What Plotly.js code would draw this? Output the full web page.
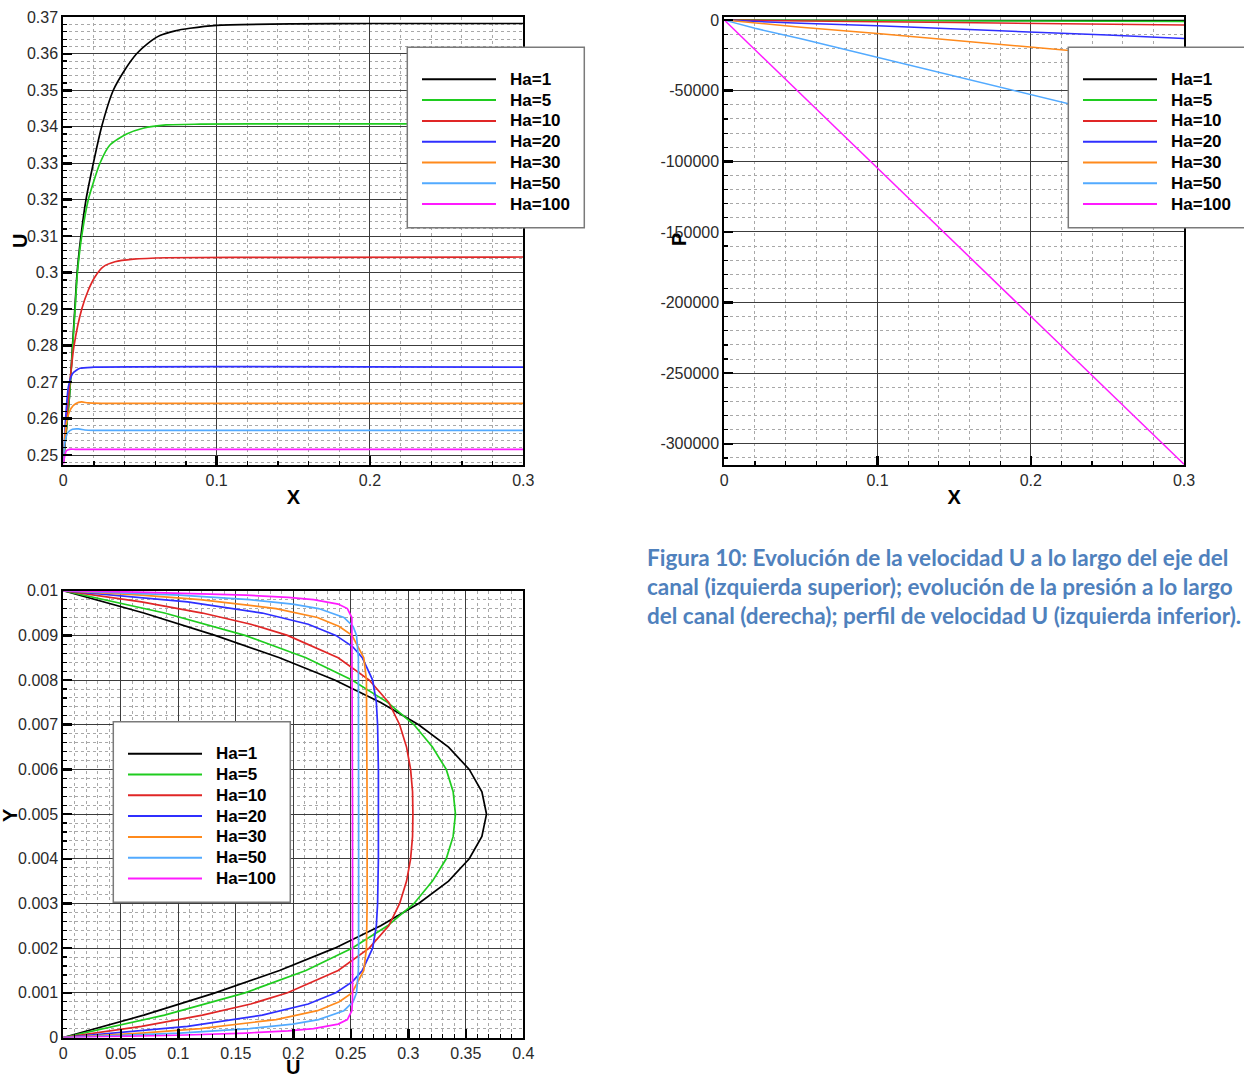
<!DOCTYPE html>
<html>
<head>
<meta charset="utf-8">
<script src="https://cdn.plot.ly/plotly-3.0.1.min.js"></script>
<style>
  html, body { margin: 0; padding: 0; background: #ffffff; }
  #chart { width: 1244px; height: 1074px; }
</style>
</head>
<body>
<div id="chart"></div>
<script>
// ---------- series ----------
const seriesNames = ['Ha=1', 'Ha=5', 'Ha=10', 'Ha=20', 'Ha=30', 'Ha=50', 'Ha=100'];

// ---------- centre-line velocity U along the channel (top left) ----------
const axisX_Ha1 = [0, 0.002, 0.004, 0.006, 0.0075, 0.009, 0.0115, 0.0148, 0.0196, 0.025, 0.0326, 0.04, 0.0478, 0.055, 0.063, 0.073, 0.0826, 0.1, 0.15, 0.2, 0.3];
const axisU_Ha1 = [0.248, 0.257, 0.266, 0.28, 0.29, 0.3, 0.31, 0.32, 0.33, 0.34, 0.35, 0.3555, 0.36, 0.3628, 0.365, 0.3663, 0.367, 0.3678, 0.3682, 0.3683, 0.3683];
const axisX_Ha5 = [0, 0.002, 0.004, 0.006, 0.0077, 0.0092, 0.012, 0.0163, 0.0239, 0.0304, 0.0413, 0.052, 0.067, 0.089, 0.15, 0.3];
const axisU_Ha5 = [0.248, 0.257, 0.266, 0.279, 0.29, 0.3, 0.31, 0.32, 0.33, 0.335, 0.338, 0.3396, 0.3405, 0.3407, 0.3408, 0.3408];
const axisX_Ha10 = [0, 0.0022, 0.0043, 0.007, 0.012, 0.0163, 0.0207, 0.026, 0.0337, 0.0457, 0.067, 0.15, 0.3];
const axisU_Ha10 = [0.248, 0.26, 0.27, 0.28, 0.29, 0.2952, 0.2989, 0.3016, 0.303, 0.3037, 0.3041, 0.3042, 0.3043];
const axisX_Ha20 = [0, 0.0015, 0.0033, 0.0061, 0.0109, 0.02, 0.3];
const axisU_Ha20 = [0.248, 0.26, 0.2687, 0.2724, 0.2738, 0.2741, 0.2741];
const axisX_Ha30 = [0, 0.001, 0.0025, 0.005, 0.008, 0.012, 0.016, 0.025, 0.3];
const axisU_Ha30 = [0.248, 0.255, 0.26, 0.2628, 0.2641, 0.2646, 0.2643, 0.2642, 0.2642];
const axisX_Ha50 = [0, 0.001, 0.003, 0.006, 0.01, 0.014, 0.02, 0.3];
const axisU_Ha50 = [0.248, 0.2535, 0.2562, 0.2571, 0.2572, 0.2569, 0.2568, 0.2568];
const axisX_Ha100 = [0, 0.0008, 0.002, 0.004, 0.008, 0.3];
const axisU_Ha100 = [0.2475, 0.2495, 0.2512, 0.2516, 0.2516, 0.2516];

// ---------- pressure P along the channel (right) ----------
const presX = [0, 0.02, 0.05, 0.1, 0.15, 0.2, 0.25, 0.3];
const presP_Ha1 = [0, -30, -70, -130, -190, -250, -300, -350];
const presP_Ha5 = [0, -120, -220, -380, -540, -700, -860, -1000];
const presP_Ha10 = [0, -300, -600, -1150, -1700, -2300, -2900, -3500];
const presP_Ha20 = [0, -1000, -2200, -4000, -6100, -8300, -10600, -13000];
const presP_Ha30 = [0, -2200, -5000, -9500, -14300, -19200, -24000, -28800];
const presP_Ha50 = [0, -5800, -13200, -26300, -39500, -52700, -65800, -79000];
const presP_Ha100 = [0, -21000, -52300, -104600, -157000, -209500, -262000, -314500];

// ---------- velocity profile U across the channel (bottom left) ----------
const profY_Ha1 = [0, 0.0005, 0.001, 0.0015, 0.002, 0.0025, 0.003, 0.0035, 0.004, 0.0045, 0.005, 0.0055, 0.006, 0.0065, 0.007, 0.0075, 0.008, 0.0085, 0.009, 0.0095, 0.01];
const profU_Ha1 = [0, 0.070, 0.132, 0.188, 0.236, 0.276, 0.309, 0.335, 0.353, 0.364, 0.368, 0.364, 0.353, 0.335, 0.309, 0.276, 0.236, 0.188, 0.132, 0.070, 0];
const profY_Ha5 = [0, 0.0005, 0.001, 0.0015, 0.002, 0.0025, 0.003, 0.0035, 0.004, 0.0045, 0.005, 0.0055, 0.006, 0.0065, 0.007, 0.0075, 0.008, 0.0085, 0.009, 0.0095, 0.01];
const profU_Ha5 = [0, 0.088, 0.158, 0.211, 0.251, 0.282, 0.305, 0.321, 0.333, 0.339, 0.341, 0.339, 0.333, 0.321, 0.305, 0.282, 0.251, 0.211, 0.158, 0.088, 0];
const profY_Ha10 = [0, 0.00025, 0.0005, 0.00075, 0.001, 0.0015, 0.002, 0.0025, 0.003, 0.0035, 0.004, 0.0045, 0.005, 0.0055, 0.006, 0.0065, 0.007, 0.0075, 0.008, 0.0085, 0.009, 0.00925, 0.0095, 0.00975, 0.01];
const profU_Ha10 = [0, 0.068, 0.121, 0.163, 0.195, 0.239, 0.266, 0.283, 0.2925, 0.2985, 0.302, 0.3037, 0.304, 0.3037, 0.302, 0.2985, 0.2925, 0.283, 0.266, 0.239, 0.195, 0.163, 0.121, 0.068, 0];
const profY_Ha20 = [0, 0.00025, 0.0005, 0.00075, 0.001, 0.00125, 0.0015, 0.002, 0.0025, 0.003, 0.004, 0.005, 0.006, 0.007, 0.0075, 0.008, 0.0085, 0.00875, 0.009, 0.00925, 0.0095, 0.00975, 0.01];
const profU_Ha20 = [0, 0.108, 0.173, 0.213, 0.237, 0.2515, 0.260, 0.269, 0.2722, 0.2733, 0.274, 0.274, 0.274, 0.2733, 0.2722, 0.269, 0.260, 0.2515, 0.237, 0.213, 0.173, 0.108, 0];
const profY_Ha30 = [0, 0.0001, 0.0002, 0.0004, 0.0006, 0.0008, 0.001, 0.0015, 0.002, 0.003, 0.005, 0.007, 0.008, 0.0085, 0.009, 0.0092, 0.0094, 0.0096, 0.0098, 0.0099, 0.01];
const profU_Ha30 = [0, 0.068, 0.119, 0.185, 0.221, 0.240, 0.251, 0.2613, 0.2636, 0.2642, 0.2642, 0.2642, 0.2636, 0.2613, 0.251, 0.240, 0.221, 0.185, 0.119, 0.068, 0];
const profY_Ha50 = [0, 0.00005, 0.0001, 0.0002, 0.0003, 0.0004, 0.0006, 0.0008, 0.001, 0.0015, 0.002, 0.005, 0.008, 0.0085, 0.009, 0.0092, 0.0094, 0.0096, 0.0097, 0.0098, 0.0099, 0.00995, 0.01];
const profU_Ha50 = [0, 0.057, 0.101, 0.162, 0.1995, 0.222, 0.244, 0.252, 0.255, 0.2566, 0.2568, 0.2568, 0.2568, 0.2566, 0.255, 0.252, 0.244, 0.222, 0.1995, 0.162, 0.101, 0.057, 0];
const profY_Ha100 = [0, 0.00003, 0.00005, 0.0001, 0.00015, 0.0002, 0.0003, 0.0004, 0.0006, 0.0008, 0.001, 0.005, 0.009, 0.0092, 0.0094, 0.0096, 0.0097, 0.0098, 0.00985, 0.0099, 0.00995, 0.00997, 0.01];
const profU_Ha100 = [0, 0.065, 0.099, 0.159, 0.1955, 0.2176, 0.239, 0.247, 0.2509, 0.2514, 0.2515, 0.2515, 0.2515, 0.2514, 0.2509, 0.247, 0.239, 0.2176, 0.1955, 0.159, 0.099, 0.065, 0];

// ---------- tick labels ----------
const xTickVals = [0, 0.1, 0.2, 0.3];
const xTickText = ['0', '0.1', '0.2', '0.3'];
const uTickVals = [0.25, 0.26, 0.27, 0.28, 0.29, 0.30, 0.31, 0.32, 0.33, 0.34, 0.35, 0.36, 0.37];
const uTickText = ['0.25', '0.26', '0.27', '0.28', '0.29', '0.3', '0.31', '0.32', '0.33', '0.34', '0.35', '0.36', '0.37'];
const pTickVals = [0, -50000, -100000, -150000, -200000, -250000, -300000];
const pTickText = ['0', '-50000', '-100000', '-150000', '-200000', '-250000', '-300000'];
const profXTickVals = [0, 0.05, 0.1, 0.15, 0.2, 0.25, 0.3, 0.35, 0.4];
const profXTickText = ['0', '0.05', '0.1', '0.15', '0.2', '0.25', '0.3', '0.35', '0.4'];
const profYTickVals = [0, 0.001, 0.002, 0.003, 0.004, 0.005, 0.006, 0.007, 0.008, 0.009, 0.01];
const profYTickText = ['0', '0.001', '0.002', '0.003', '0.004', '0.005', '0.006', '0.007', '0.008', '0.009', '0.01'];

// ---------- caption ----------
const captionLines = [
  'Figura 10: Evolución de la velocidad U a lo largo del eje del',
  'canal (izquierda superior); evolución de la presión a lo largo',
  'del canal (derecha); perfil de velocidad U (izquierda inferior).'
];

// ---------- styling ----------
const lineColors = ['#000000', '#1fcc1f', '#e02626', '#2f2fff', '#ff8a1c', '#52aaff', '#ff1aff'];
const W = 1244, H = 1074;
const px = v => v / W;          // pixel -> paper x
const py = v => 1 - v / H;      // pixel -> paper y
const tickFont = { family: 'Liberation Sans, Arial, sans-serif', size: 16, color: '#2a2a2a' };
const titleFont = { family: 'Liberation Sans, Arial, sans-serif', size: 20, color: '#000000' };

const axisX = [axisX_Ha1, axisX_Ha5, axisX_Ha10, axisX_Ha20, axisX_Ha30, axisX_Ha50, axisX_Ha100];
const axisU = [axisU_Ha1, axisU_Ha5, axisU_Ha10, axisU_Ha20, axisU_Ha30, axisU_Ha50, axisU_Ha100];
const presP = [presP_Ha1, presP_Ha5, presP_Ha10, presP_Ha20, presP_Ha30, presP_Ha50, presP_Ha100];
const profY = [profY_Ha1, profY_Ha5, profY_Ha10, profY_Ha20, profY_Ha30, profY_Ha50, profY_Ha100];
const profU = [profU_Ha1, profU_Ha5, profU_Ha10, profU_Ha20, profU_Ha30, profU_Ha50, profU_Ha100];

const traces = [];
seriesNames.forEach((name, i) => {
  traces.push({ type: 'scatter', mode: 'lines', name, x: axisX[i], y: axisU[i], xaxis: 'x', yaxis: 'y',
    line: { color: lineColors[i], width: 1.7, shape: 'spline', smoothing: 0.6 }, showlegend: false, hoverinfo: 'skip' });
  traces.push({ type: 'scatter', mode: 'lines', name, x: presX, y: presP[i], xaxis: 'x2', yaxis: 'y2',
    line: { color: lineColors[i], width: 1.5 }, showlegend: false, hoverinfo: 'skip' });
  traces.push({ type: 'scatter', mode: 'lines', name, x: profU[i], y: profY[i], xaxis: 'x3', yaxis: 'y3',
    line: { color: lineColors[i], width: 1.7 }, showlegend: false, hoverinfo: 'skip' });
});

function axis(domain, range, tickvals, ticktext, minorDtick, extra) {
  return Object.assign({
    domain, range, tickmode: 'array', tickvals, ticktext,
    ticks: 'inside', ticklen: 9, tickwidth: 2.5, tickcolor: '#000',
    tickfont: tickFont,
    showgrid: true, gridcolor: '#3c3c3c', gridwidth: 1,
    zeroline: false, showline: true, linecolor: '#000', linewidth: 2, mirror: true,
    minor: { tick0: 0, dtick: minorDtick, ticks: 'inside', ticklen: 4, tickwidth: 1.2, tickcolor: '#000',
             showgrid: true, gridcolor: '#a8a8a8', griddash: 'dot', gridwidth: 1 },
    automargin: false, fixedrange: true
  }, extra || {});
}

// plot frames in pixels
const P1 = { l: 63.3, r: 523.3, t: 17.3, b: 465 };
const P2 = { l: 724.3, r: 1184, t: 17.3, b: 465 };
const P3 = { l: 63.3, r: 523.3, t: 590.7, b: 1037.5 };
const dx = f => [px(f.l), px(f.r)];
const dy = f => [py(f.b), py(f.t)];

const layout = {
  width: W, height: H,
  margin: { l: 0, r: 0, t: 0, b: 0, pad: 0 },
  paper_bgcolor: '#ffffff', plot_bgcolor: '#ffffff',
  showlegend: false,
  font: { family: 'Liberation Sans, Arial, sans-serif' },
  xaxis: axis(dx(P1), [0, 0.3], xTickVals, xTickText, 0.02, { anchor: 'y', title: { text: '<b>X</b>', font: titleFont, standoff: 2 } }),
  yaxis: axis(dy(P1), [0.2473, 0.37], uTickVals, uTickText, 0.002, { anchor: 'x' }),
  xaxis2: axis(dx(P2), [0, 0.3], xTickVals, xTickText, 0.02, { anchor: 'y2', title: { text: '<b>X</b>', font: titleFont, standoff: 2 } }),
  yaxis2: axis(dy(P2), [-315000, 2000], pTickVals, pTickText, 10000, { anchor: 'x2' }),
  xaxis3: axis(dx(P3), [0, 0.4], profXTickVals, profXTickText, 0.01, { anchor: 'y3' }),
  yaxis3: axis(dy(P3), [0, 0.01], profYTickVals, profYTickText, 0.0002, { anchor: 'x3' }),
  shapes: [],
  annotations: []
};

// axis titles placed close to (and partly over) the tick labels
[['U', 20, 241, -90], ['P', 679, 240, -90], ['Y', 10, 815, -90], ['U', 293.3, 1067, 0]].forEach(([t, x, y, a]) => {
  layout.annotations.push({ xref: 'paper', yref: 'paper', x: px(x), y: py(y), text: '<b>' + t + '</b>',
    showarrow: false, textangle: a, xanchor: 'center', yanchor: 'middle', font: titleFont });
});

// legend boxes: one per panel
function addLegend(boxL, boxT) {
  const boxW = 177, boxH = 180.5;
  layout.shapes.push({ type: 'rect', xref: 'paper', yref: 'paper', layer: 'above',
    x0: px(boxL), x1: px(boxL + boxW), y0: py(boxT + boxH), y1: py(boxT),
    fillcolor: '#ffffff', line: { color: '#7a7a7a', width: 1.5 } });
  seriesNames.forEach((name, i) => {
    const rowY = boxT + 32 + i * 20.8;
    layout.shapes.push({ type: 'line', xref: 'paper', yref: 'paper', layer: 'above',
      x0: px(boxL + 14.7), x1: px(boxL + 88.7), y0: py(rowY), y1: py(rowY),
      line: { color: lineColors[i], width: 2 } });
    layout.annotations.push({ xref: 'paper', yref: 'paper', x: px(boxL + 101), y: py(rowY),
      text: '<b>' + name + '</b>', showarrow: false, xanchor: 'left', yanchor: 'middle',
      font: { family: 'Liberation Sans, Arial, sans-serif', size: 17, color: '#000' } });
  });
}
addLegend(407.3, 47.3);
addLegend(1068.3, 47.3);
addLegend(113.3, 721.7);

// caption block
captionLines.forEach((t, i) => {
  layout.annotations.push({ xref: 'paper', yref: 'paper', x: px(645), y: py(557 + i * 29.3),
    text: '<b>' + t + '</b>', showarrow: false, xanchor: 'left', yanchor: 'middle', align: 'left',
    font: { family: 'Lato, Noto Sans, sans-serif', size: 22.5, color: '#4f81bd' } });
});

Plotly.newPlot('chart', traces, layout, { staticPlot: true, displayModeBar: false });
</script>
</body>
</html>
